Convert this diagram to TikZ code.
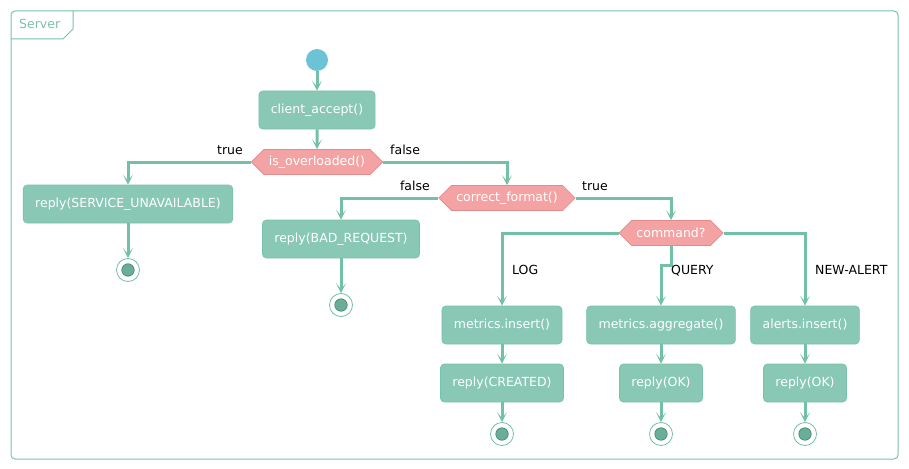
\documentclass[tikz,border=0pt]{standalone}
\usepackage{fontspec}
\setmainfont{DejaVu Sans}
\usetikzlibrary{shapes.symbols,arrows.meta}
\definecolor{boxfill}{HTML}{89C8B5}
\definecolor{boxline}{HTML}{78C2AD}
\definecolor{flow}{HTML}{72C0A6}
\definecolor{hexfill}{HTML}{F3A3A3}
\definecolor{hexline}{HTML}{E38A8A}
\definecolor{startc}{HTML}{6CC3D5}
\definecolor{endin}{HTML}{6AAE98}
\definecolor{endline}{HTML}{3F7F6C}
\tikzset{
  x=1pt,y=-1pt,
  actbox/.style={draw=boxline,line width=0.7pt,fill=boxfill,rounded corners=4pt,text=white,
    font=\fontsize{12.5}{14}\selectfont,inner xsep=12pt,minimum height=38pt,anchor=center},
  hexbox/.style={shape=signal,signal to=west and east,signal pointer angle=90,draw=hexline,
    line width=0.7pt,fill=hexfill,text=white,font=\fontsize{12.5}{14}\selectfont,
    inner xsep=5pt,inner ysep=0pt,minimum height=25pt},
  flowline/.style={draw=flow,line width=3pt,-{Stealth[length=10pt,width=10pt,inset=6pt]}},
  lbl/.style={font=\fontsize{12.5}{14}\selectfont,text=black,inner sep=0pt},
  startdot/.style={circle,fill=startc,minimum size=22pt,inner sep=0pt},
  endring/.style={circle,draw=flow,line width=0.8pt,fill=white,minimum size=23pt,inner sep=0pt},
  enddot/.style={circle,draw=endline,line width=0.6pt,fill=endin,minimum size=12.5pt,inner sep=0pt},
}
\begin{document}
\begin{tikzpicture}
\useasboundingbox (0,0) rectangle (909,468);
% frame
\draw[draw=boxline,line width=1pt,rounded corners=4pt] (11,11) rectangle (898,459);
\draw[draw=boxline,line width=1pt] (11,39) -- (63,39) -- (73,29) -- (73,11);
\node[text=boxline,font=\fontsize{12.5}{14}\selectfont,anchor=west,inner sep=0pt] (title) at (19,24) {Server};

% nodes
\node[startdot] (start) at (317,60) {};
\node[actbox] (accept) at (317,110) {client\_accept()};
\node[hexbox] (over) at (317,162) {is\_overloaded()};
\node[actbox] (unavail) at (128,204) {reply(SERVICE\_UNAVAILABLE)};
\node[endring] (e1) at (128,270) {};
\node[enddot] at (e1) {};

\node[hexbox] (fmt) at (507,198) {correct\_format()};
\node[actbox] (bad) at (341,239) {reply(BAD\_REQUEST)};
\node[endring] (e2) at (341,305) {};
\node[enddot] at (e2) {};

\node[hexbox] (cmd) at (671,233) {command?};
\node[actbox] (minsert) at (502,325) {metrics.insert()};
\node[actbox] (magg) at (661,325) {metrics.aggregate()};
\node[actbox] (ainsert) at (805,325) {alerts.insert()};
\node[actbox] (created) at (502,383) {reply(CREATED)};
\node[actbox] (ok1) at (661,383) {reply(OK)};
\node[actbox] (ok2) at (805,383) {reply(OK)};
\node[endring] (e3) at (502,434) {};
\node[enddot] at (e3) {};
\node[endring] (e4) at (661,434) {};
\node[enddot] at (e4) {};
\node[endring] (e5) at (805,434) {};
\node[enddot] at (e5) {};

\coordinate (qbend) at (671,265);

% connectors
\draw[flowline] (start) -- (accept);
\draw[flowline] (accept) -- (over);
\draw[flowline] (over.west) -| (unavail.north);
\draw[flowline] (unavail) -- (e1);
\draw[flowline] (over.east) -| (fmt.north);
\draw[flowline] (fmt.west) -| (bad.north);
\draw[flowline] (bad) -- (e2);
\draw[flowline] (fmt.east) -| (cmd.north);
\draw[flowline] (cmd.west) -| (minsert.north);
\draw[flowline] (cmd.south) -- (qbend) -| (magg.north);
\draw[flowline] (cmd.east) -| (ainsert.north);
\draw[flowline] (minsert) -- (created);
\draw[flowline] (magg) -- (ok1);
\draw[flowline] (ainsert) -- (ok2);
\draw[flowline] (created) -- (e3);
\draw[flowline] (ok1) -- (e4);
\draw[flowline] (ok2) -- (e5);

% labels
\node[lbl,anchor=east] (l1) at (243,150) {true};
\node[lbl,anchor=west] (l2) at (390,150) {false};
\node[lbl,anchor=east] (l3) at (430,186) {false};
\node[lbl,anchor=west] (l4) at (582,186) {true};
\node[lbl,anchor=west] (l5) at (512,270) {LOG};
\node[lbl,anchor=west] (l6) at (671,271) {QUERY};
\node[lbl,anchor=west] (l7) at (815,270) {NEW-ALERT};
\end{tikzpicture}
\end{document}
